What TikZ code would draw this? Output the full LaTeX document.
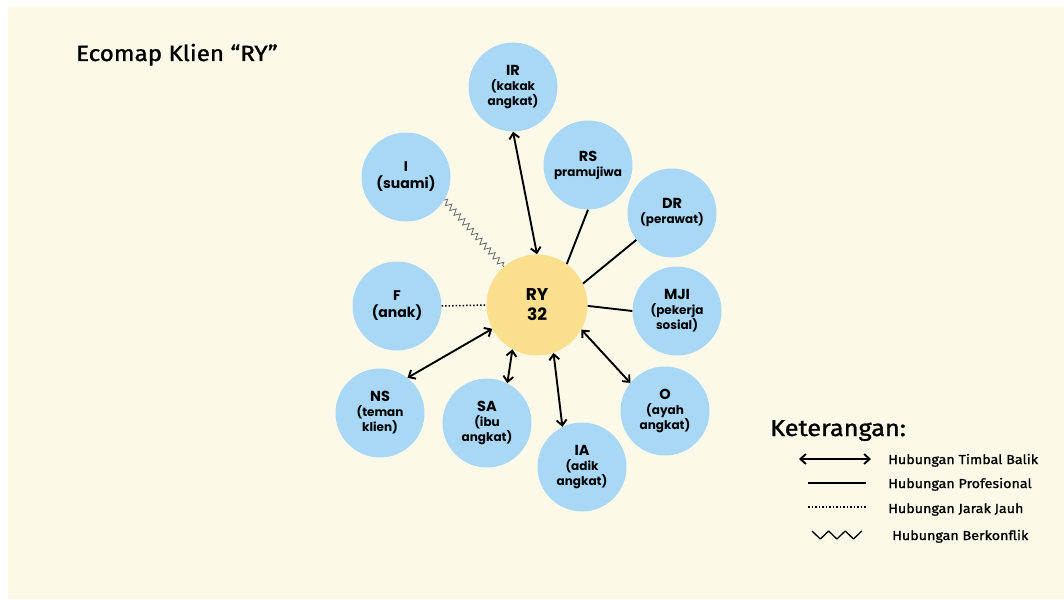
\documentclass[tikz,border=0pt]{standalone}
\usepackage{fontspec}
\setmainfont{Poppins}
\newfontfamily\handfont[FakeStretch=1.1,FakeBold=1.2]{Fira Sans}
\usetikzlibrary{arrows.meta,decorations.pathmorphing}

\definecolor{paper}{RGB}{253,249,233}
\definecolor{bubblue}{RGB}{168,216,246}
\definecolor{bubyellow}{RGB}{250,224,140}
\definecolor{zzgray}{RGB}{105,105,105}
\newcommand\bubname{\fontsize{14.5}{15}\selectfont}

\begin{document}
\begin{tikzpicture}[x=1pt,y=-1pt,
  bub/.style={circle, fill=bubblue, minimum size=89pt, inner sep=0pt, align=center,
    font=\bfseries\fontsize{12}{15}\selectfont},
  bubbig/.style={bub, font=\bfseries\fontsize{14}{17}\selectfont},
  barb/.tip={Straight Barb[length=5.5pt,width=10pt]},
  mutual/.style={barb-barb, line width=1.9pt},
  prof/.style={line width=1.9pt},
  distant/.style={line width=1.5pt, dotted},
  conflict/.style={draw=zzgray, line width=0.8pt, decorate,
    decoration={zigzag, segment length=6.5pt, amplitude=3pt}},
  legconflict/.style={line width=1.3pt, line join=round},
  hand/.style={anchor=base west, font=\handfont\fontsize{13}{15}\selectfont}
]
% page and paper
\useasboundingbox (0,0) rectangle (1064,599);
\fill[white] (0,0) rectangle (1064,599);
\fill[paper] (8,7) rectangle (1064,599);

% title
\node[anchor=base west, font=\handfont\fontsize{22}{26}\selectfont, inner xsep=0pt] (title) at (76,61) {Ecomap Klien “RY”};

% client
\node[bub, fill=bubyellow, minimum size=101pt, font=\bfseries\fontsize{17}{20}\selectfont] (RY) at (537,305) {RY\\32};

% surrounding systems
\node[bub] (IR) at (513,87) {{\bubname IR}\\(kakak\\angkat)};
\node[bub] (RS) at (588,165) {{\bubname RS}\\pramujiwa};
\node[bub] (DR) at (672,213) {{\bubname DR}\\(perawat)};
\node[bub] (MJI) at (677,311) {{\bubname MJI}\\(pekerja\\sosial)};
\node[bub] (O) at (665,411) {{\bubname O}\\(ayah\\angkat)};
\node[bub] (IA) at (582,467) {{\bubname IA}\\(adik\\angkat)};
\node[bub] (SA) at (487,423) {{\bubname SA}\\(ibu\\angkat)};
\node[bub] (NS) at (380,413) {{\bubname NS}\\(teman\\klien)};
\node[bubbig] (F) at (397,306) {F\\(anak)};
\node[bubbig] (I) at (406,177) {I\\(suami)};

% relations
\draw[mutual] (IR.south) -- (RY.north);
\draw[prof] (RS.-90) -- (RY.54);
\draw[prof] (DR.217) -- (RY.25);
\draw[prof] (MJI.180) -- (RY.-1);
\draw[mutual] (RY.-29) -- (O.141);
\draw[mutual] (RY.-71) -- (IA.116);
\draw[mutual] (RY.241) -- (SA.63);
\draw[mutual] (RY.208) -- (NS.52);
\draw[distant] (F.east) -- (RY.west);
\draw[conflict] (I.-31) -- (RY.131);

% legend
\node[anchor=base west, font=\handfont\fontsize{23}{26}\selectfont, inner xsep=0pt] (ket) at (770,436) {Keterangan:};
\coordinate (l1a) at (799,459); \coordinate (l1b) at (871,459);
\coordinate (l2a) at (808,483); \coordinate (l2b) at (866,483);
\coordinate (l3a) at (808,507); \coordinate (l3b) at (866,507);
\coordinate (l4a) at (812,531);
\draw[mutual] (l1a) -- (l1b);
\draw[prof] (l2a) -- (l2b);
\draw[distant] (l3a) -- (l3b);
\draw[legconflict] (l4a) -- ++(8.3,8) -- ++(8.3,-8) -- ++(8.3,8) -- ++(8.3,-8) -- ++(8.3,8) -- ++(8.3,-8);
\node[hand, inner xsep=0pt] (k1) at (888,464) {Hubungan Timbal Balik};
\node[hand, inner xsep=0pt] (k2) at (888,488) {Hubungan Profesional};
\node[hand, inner xsep=0pt] (k3) at (888,513) {Hubungan Jarak Jauh};
\node[hand, inner xsep=0pt] (k4) at (892,540) {Hubungan Berkonflik};
\end{tikzpicture}
\end{document}
